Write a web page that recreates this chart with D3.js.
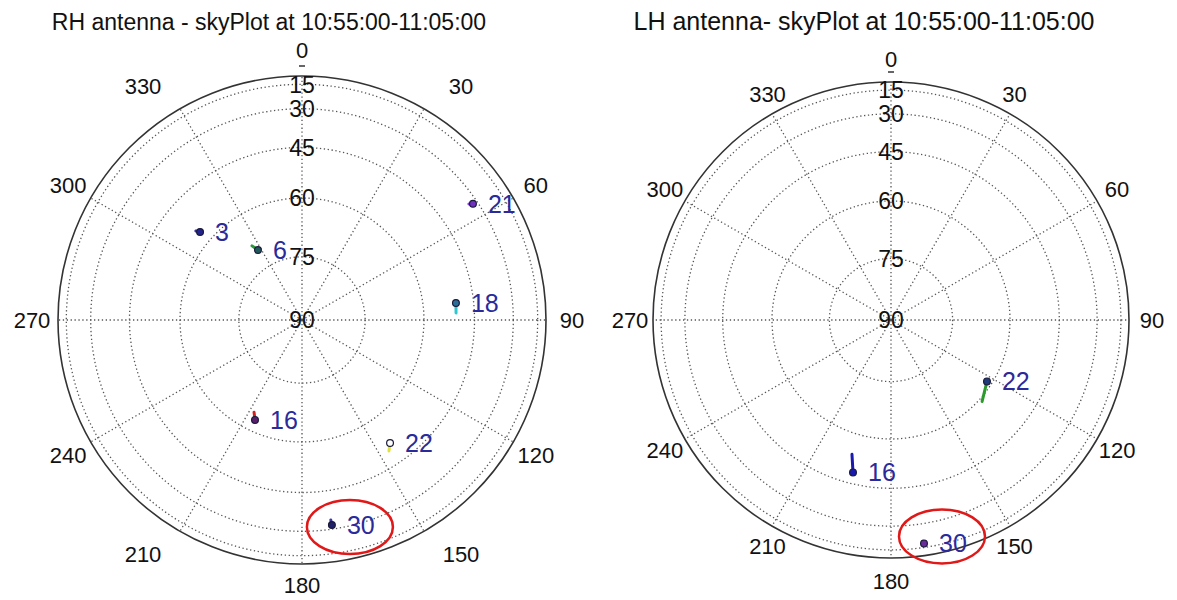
<!DOCTYPE html>
<html>
<head>
<meta charset="utf-8">
<script src="https://cdn.jsdelivr.net/npm/d3@7"></script>
<style>
  body { margin: 0; background: #fff; }
  text { font-family: "Liberation Sans", Arial, sans-serif; }
</style>
</head>
<body>
<div id="chart"></div>
<script>
// Chart size
var width = 1177;
var height = 600;

// Azimuth and elevation grid values
var azimuthTicks = [0, 30, 60, 90, 120, 150, 180, 210, 240, 270, 300, 330];
var elevationRings = [15, 30, 45, 60, 75];
var elevationLabels = [15, 30, 45, 60, 75, 90];

// RH antenna satellites (marker at az/el, short track to tailAz/tailEl)
var rhPrn = [3, 6, 21, 18, 16, 22, 30];
var rhAz = [310.8, 327.8, 55.8, 83.7, 205.2, 144.4, 171.7];
var rhEl = [56.5, 70.2, 32.1, 50.6, 63.1, 51.7, 31.9];
var rhTailAz = [310.0, 326.0, 55.2, 87.4, 207.5, 146.4, 171.8];
var rhTailEl = [55.4, 68.5, 33.6, 50.8, 64.8, 49.9, 34.1];
var rhMarkerColor = ["#23238f", "#1f5a5a", "#7030c0", "#2a6f9a", "#5a1f6a", "#ffffff", "#20206a"];
var rhTailColor = ["#3030b0", "#2a9a3a", "#8040d0", "#30c8d0", "#d02020", "#e0e040", "#3a3aa0"];

// LH antenna satellites
var lhPrn = [22, 16, 30];
var lhAz = [122.6, 194.0, 171.6];
var lhEl = [61.4, 48.7, 18.4];
var lhTailAz = [131.8, 196.2, 171.8];
var lhTailEl = [59.1, 54.0, 20.0];
var lhMarkerColor = ["#1f3a7a", "#1a1ab0", "#6a2a9a"];
var lhTailColor = ["#2a9a2a", "#1a1ab0", "#c02060"];

var svg = d3.select("#chart")
    .append("svg")
    .attr("width", width)
    .attr("height", height);

// Draw one sky plot
function skyPlot(opts) {
    var g = svg.append("g");
    var cx = opts.cx, cy = opts.cy, R = opts.radius;

    // radius follows cos(elevation)
    var rScale = d3.scaleLinear().domain([0, 1]).range([0, R]);
    function rOf(el) { return rScale(Math.cos(el * Math.PI / 180)); }
    function pos(az, el) {
        var a = az * Math.PI / 180;
        var r = rOf(el);
        return [cx + r * Math.sin(a), cy - r * Math.cos(a)];
    }

    // title
    g.append("text")
        .attr("x", opts.titleX)
        .attr("y", 30)
        .attr("text-anchor", "middle")
        .attr("font-size", opts.titleSize)
        .attr("fill", "#111")
        .text(opts.title);

    // spokes
    g.selectAll(".spoke")
        .data(azimuthTicks)
        .enter().append("line")
        .attr("class", "spoke")
        .attr("x1", cx).attr("y1", cy)
        .attr("x2", function (d) { return pos(d, 0)[0]; })
        .attr("y2", function (d) { return pos(d, 0)[1]; })
        .attr("stroke", "#555")
        .attr("stroke-width", 1.3)
        .attr("stroke-dasharray", "1.3,2.6");

    // elevation rings
    g.selectAll(".ring")
        .data(elevationRings)
        .enter().append("circle")
        .attr("class", "ring")
        .attr("cx", cx).attr("cy", cy)
        .attr("r", function (d) { return rOf(d); })
        .attr("fill", "none")
        .attr("stroke", "#555")
        .attr("stroke-width", 1.3)
        .attr("stroke-dasharray", "1.3,2.6");

    // horizon
    g.append("circle")
        .attr("cx", cx).attr("cy", cy)
        .attr("r", rOf(0))
        .attr("fill", "none")
        .attr("stroke", "#333")
        .attr("stroke-width", 1.6);

    // small tick under 0 label
    g.append("line")
        .attr("x1", cx - 3).attr("x2", cx + 3)
        .attr("y1", cy - R - 10).attr("y2", cy - R - 10)
        .attr("stroke", "#333").attr("stroke-width", 1.5);

    // azimuth labels (diagonal ones pushed sideways a little)
    function diag(d) { return (d % 90 !== 0 && d % 60 !== 0) ? 1 : 0; }
    g.selectAll(".azlabel")
        .data(azimuthTicks)
        .enter().append("text")
        .attr("class", "azlabel")
        .attr("x", function (d) {
            var a = d * Math.PI / 180;
            var s = Math.sin(a);
            return cx + (R + opts.labelGap) * s + diag(d) * opts.diagPush * Math.sign(s);
        })
        .attr("y", function (d) {
            var a = d * Math.PI / 180;
            return Math.min(cy - (R + opts.labelGap) * Math.cos(a), height - 15);
        })
        .attr("dy", "0.36em")
        .attr("text-anchor", "middle")
        .attr("font-size", 22)
        .attr("fill", "#111")
        .text(function (d) { return d; });

    // elevation labels
    g.selectAll(".ellabel")
        .data(elevationLabels)
        .enter().append("text")
        .attr("class", "ellabel")
        .attr("x", cx)
        .attr("y", function (d) { return pos(0, d)[1]; })
        .attr("dy", "0.36em")
        .attr("text-anchor", "middle")
        .attr("font-size", 23)
        .attr("fill", "#111")
        .text(function (d) { return d; });

    // satellite tracks
    var sats = opts.prn.map(function (p, i) {
        return {
            prn: p,
            p: pos(opts.az[i], opts.el[i]),
            t: pos(opts.tailAz[i], opts.tailEl[i]),
            mc: opts.markerColor[i],
            tc: opts.tailColor[i]
        };
    });

    g.selectAll(".track")
        .data(sats)
        .enter().append("line")
        .attr("class", "track")
        .attr("x1", function (d) { return d.p[0]; })
        .attr("y1", function (d) { return d.p[1]; })
        .attr("x2", function (d) { return d.t[0]; })
        .attr("y2", function (d) { return d.t[1]; })
        .attr("stroke", function (d) { return d.tc; })
        .attr("stroke-width", 3)
        .attr("stroke-linecap", "round");

    g.selectAll(".sat")
        .data(sats)
        .enter().append("circle")
        .attr("class", "sat")
        .attr("cx", function (d) { return d.p[0]; })
        .attr("cy", function (d) { return d.p[1]; })
        .attr("r", 3.4)
        .attr("fill", function (d) { return d.mc; })
        .attr("stroke", "#1a1a3a")
        .attr("stroke-width", 1.2);

    g.selectAll(".prn")
        .data(sats)
        .enter().append("text")
        .attr("class", "prn")
        .attr("x", function (d) { return d.p[0] + 15; })
        .attr("y", function (d) { return d.p[1]; })
        .attr("dy", "0.36em")
        .attr("font-size", 25)
        .attr("fill", "#2a2a9a")
        .text(function (d) { return d.prn; });

    // red highlight around satellite 30
    var hi = sats[opts.prn.indexOf(30)];
    g.append("ellipse")
        .attr("cx", hi.p[0] + opts.ringDx)
        .attr("cy", hi.p[1] + opts.ringDy)
        .attr("rx", 43)
        .attr("ry", 27)
        .attr("fill", "none")
        .attr("stroke", "#e01818")
        .attr("stroke-width", 2.5);
}

skyPlot({
    title: "RH antenna - skyPlot at 10:55:00-11:05:00",
    titleX: 269, titleSize: 23, cx: 302, cy: 320, radius: 244, labelGap: 26, diagPush: 24,
    ringDx: 18, ringDy: 2,
    prn: rhPrn, az: rhAz, el: rhEl, tailAz: rhTailAz, tailEl: rhTailEl,
    markerColor: rhMarkerColor, tailColor: rhTailColor
});

skyPlot({
    title: "LH antenna- skyPlot at 10:55:00-11:05:00",
    titleX: 864, titleSize: 25, cx: 891, cy: 320, radius: 238, labelGap: 23, diagPush: -7,
    ringDx: 18, ringDy: -7,
    prn: lhPrn, az: lhAz, el: lhEl, tailAz: lhTailAz, tailEl: lhTailEl,
    markerColor: lhMarkerColor, tailColor: lhTailColor
});
</script>
</body>
</html>
